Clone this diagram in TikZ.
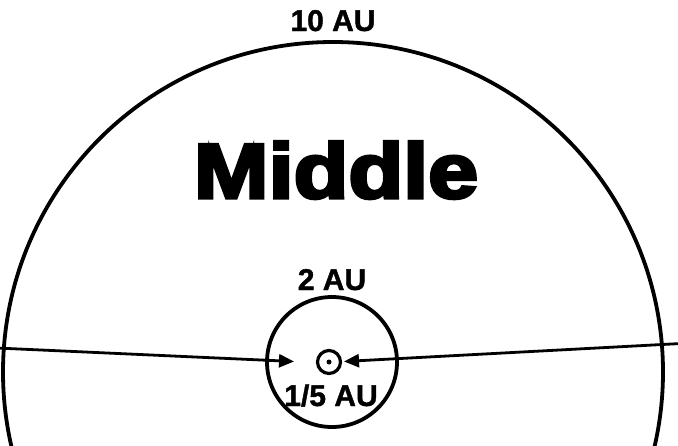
\documentclass[tikz,border=0pt]{standalone}
\usepackage{fontspec}
\setmainfont{Liberation Sans}
\newfontfamily\heavyfont[FakeBold=4]{Liberation Sans Bold}
\newfontfamily\lblfont[FakeBold=1.3]{Liberation Sans Bold}
\usetikzlibrary{arrows.meta}
\begin{document}
\begin{tikzpicture}[x=1pt,y=-1pt,
  ring/.style={circle,draw=black,line width=3.8pt,inner sep=0pt},
  lbl/.style={anchor=base,inner sep=0pt,font=\fontsize{30}{30}\selectfont\lblfont},
  arr/.style={line width=2.8pt,-{Triangle[length=15pt,width=13pt]}}]
\useasboundingbox (0,0) rectangle (678,445);
\node[ring,minimum size=660pt] (big) at (333,372) {};
\node[ring,minimum size=130pt] (small) at (332,362) {};
\node[ring,line width=3.2pt,minimum size=23pt] (sun) at (329,362) {};
\fill (sun.center) circle (2.5pt);
\coordinate (lstart) at (-3,348);
\coordinate (ltip) at (294,361.5);
\coordinate (rstart) at (681,343.5);
\coordinate (rtip) at (344,361.5);
\draw[arr] (lstart) -- (ltip);
\draw[arr] (rstart) -- (rtip);
\node[lbl] (t10) at (333,31) {10 AU};
\node[lbl] (t2) at (332,290) {2 AU};
\node[lbl] (t15) at (331,406) {1/5 AU};
\node[anchor=base,inner sep=0pt,font=\fontsize{78}{78}\selectfont\heavyfont,xscale=1.15] (mid) at (336,198) {Middle};
\end{tikzpicture}
\end{document}
